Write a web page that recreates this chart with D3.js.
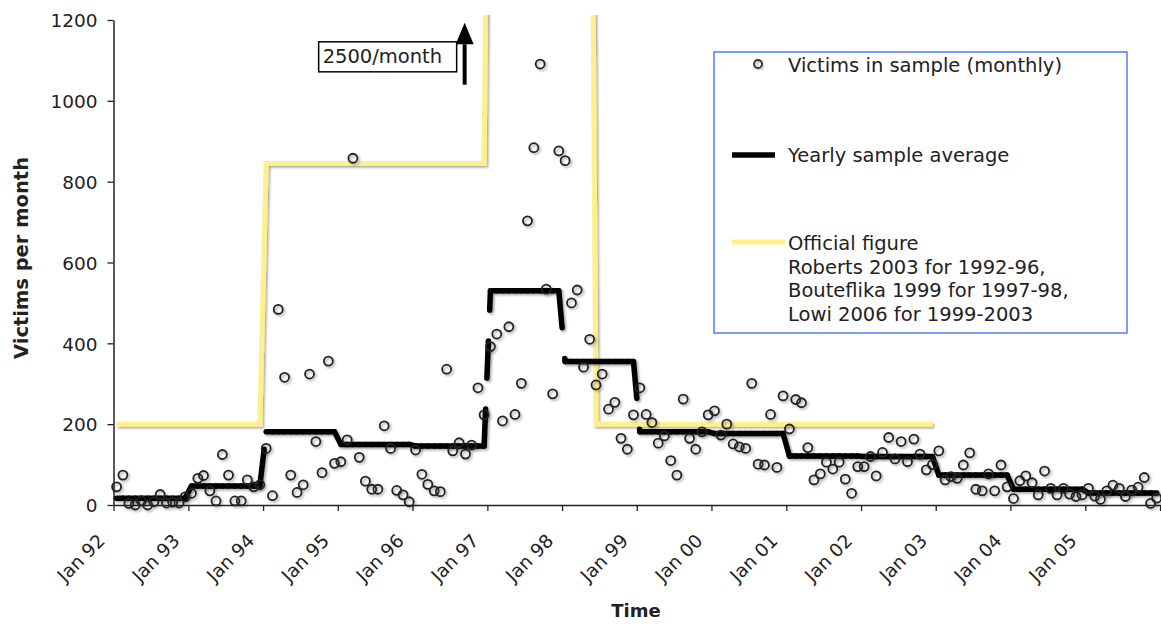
<!DOCTYPE html>
<html>
<head>
<meta charset="utf-8">
<script src="https://cdn.jsdelivr.net/npm/d3@7"></script>
<style>
body { margin: 0; background: #fff; }
svg text { font-family: "DejaVu Sans", Verdana, sans-serif; fill: #222; }
</style>
</head>
<body>
<div id="chart"></div>
<script>
// years on the axis, Jan 92 .. Jan 05
var years = [1992, 1993, 1994, 1995, 1996, 1997, 1998, 1999, 2000, 2001, 2002, 2003, 2004, 2005];

// victims in sample, one row per year, Jan..Dec
var victims = [
  45, 74, 4, 0, 10, 0, 8, 26, 5, 7, 5, 20,            // 1992
  29, 66, 73, 35, 10, 125, 74, 10, 10, 62, 45, 50,    // 1993
  140, 23, 484, 316, 74, 31, 50, 324, 157, 80, 356, 103,  // 1994
  107, 161, 858, 118, 59, 39, 39, 196, 140, 36, 25, 8,    // 1995
  136, 76, 51, 35, 33, 336, 134, 154, 126, 148, 290, 223, // 1996
  392, 423, 208, 441, 224, 301, 703, 884, 1091, 534, 275, 876, // 1997
  852, 500, 532, 341, 410, 297, 324, 237, 254, 165, 138, 223,  // 1998
  290, 224, 204, 153, 171, 110, 74, 262, 165, 138, 181, 223,   // 1999
  233, 173, 200, 151, 144, 140, 301, 101, 99, 224, 93, 270,    // 2000
  188, 261, 253, 142, 62, 77, 106, 89, 106, 64, 29, 95,        // 2001
  95, 120, 72, 130, 167, 114, 157, 107, 163, 126, 87, 100,     // 2002
  134, 62, 70, 66, 99, 129, 39, 35, 77, 35, 99, 45,            // 2003
  16, 60, 72, 55, 25, 84, 41, 25, 41, 27, 21, 25,              // 2004
  41, 22, 14, 35, 49, 41, 21, 37, 44, 68, 4, 17                // 2005
];

// yearly sample average
var yearlyAvg = [17, 47, 181, 150, 146, 530, 355, 181, 177, 121, 120, 74, 39, 30];

// official figure, step values from a start month (year, month index) to Dec 2002
var officialStart = [[1992, 0], [1994, 0], [1997, 0], [1998, 5]];
var officialValue = [200, 845, 2500, 200];
var officialEnd = [2002, 11];

var yTicks = [0, 200, 400, 600, 800, 1000, 1200];

var W = 1161, H = 624;
var plotL = 113.5, plotR = 1160, plotT = 20, plotB = 505;

var svg = d3.select("#chart").append("svg")
  .attr("width", W).attr("height", H);

var defs = svg.append("defs");
defs.append("filter").attr("id", "shadow")
  .attr("x", "-10%").attr("y", "-10%").attr("width", "130%").attr("height", "130%")
  .append("feDropShadow")
  .attr("dx", 1.6).attr("dy", 1.6).attr("stdDeviation", 0.9)
  .attr("flood-color", "#000").attr("flood-opacity", 0.35);
defs.append("clipPath").attr("id", "plotclip")
  .append("rect").attr("x", plotL).attr("y", 15).attr("width", plotR - plotL + 2).attr("height", plotB - 15);

var x = d3.scaleUtc()
  .domain([new Date(Date.UTC(1992, 0, 1)), new Date(Date.UTC(2006, 0, 1))])
  .range([plotL, plotR]);
var y = d3.scaleLinear().domain([0, 1200]).range([plotB, plotT]);

function mid(yr, m) { return new Date(Date.UTC(yr, m, 16)); }

var monthly = victims.map(function (v, i) {
  return { date: mid(years[0] + Math.floor(i / 12), i % 12), value: v };
});
var avgPts = victims.map(function (v, i) {
  return { date: mid(years[0] + Math.floor(i / 12), i % 12), value: yearlyAvg[Math.floor(i / 12)] };
});

var official = [];
officialStart.forEach(function (s, k) {
  var e = k + 1 < officialStart.length ? officialStart[k + 1] : [officialEnd[0], officialEnd[1] + 1];
  var yr = s[0], m = s[1];
  while (yr * 12 + m < e[0] * 12 + e[1]) {
    official.push({ date: mid(yr, m), value: officialValue[k] });
    m++; if (m > 11) { m = 0; yr++; }
  }
});

var line = d3.line().x(function (d) { return x(d.date); }).y(function (d) { return y(d.value); });

// axes
var xAxis = svg.append("g")
  .attr("transform", "translate(0," + plotB + ")")
  .call(d3.axisBottom(x)
    .ticks(d3.utcYear.every(1))
    .tickSize(6).tickSizeOuter(0)
    .tickFormat(function (d) { return d.getUTCFullYear() > 2005 ? "" : "Jan " + d3.utcFormat("%y")(d); }));
xAxis.select(".domain").attr("stroke", "#222").attr("stroke-width", 1.5);
xAxis.selectAll(".tick line").attr("stroke", "#222").attr("stroke-width", 1.3);
xAxis.selectAll(".tick text")
  .attr("y", 0).attr("dy", 0)
  .attr("text-anchor", "end")
  .attr("transform", "translate(-8,37) rotate(-45)")
  .style("font-size", "18.5px")
  .style("font-family", "DejaVu Sans, Verdana, sans-serif");

var yAxis = svg.append("g")
  .attr("transform", "translate(" + plotL + ",0)")
  .call(d3.axisLeft(y).tickValues(yTicks).tickSize(6).tickSizeOuter(0).tickFormat(d3.format("d")));
yAxis.select(".domain").attr("stroke", "#222").attr("stroke-width", 1.5);
yAxis.selectAll(".tick line").attr("stroke", "#222").attr("stroke-width", 1.3);
yAxis.selectAll(".tick text")
  .attr("x", -16).attr("dy", "0.36em")
  .style("font-size", "18.5px")
  .style("font-family", "DejaVu Sans, Verdana, sans-serif");

svg.append("text")
  .attr("transform", "translate(28,258) rotate(-90)")
  .attr("text-anchor", "middle")
  .style("font-size", "19.5px").style("font-weight", "bold")
  .text("Victims per month");
svg.append("text")
  .attr("x", 636).attr("y", 617)
  .attr("text-anchor", "middle")
  .style("font-size", "18px").style("font-weight", "bold")
  .text("Time");

// official figure
var plot = svg.append("g").attr("clip-path", "url(#plotclip)");
plot.append("g").attr("filter", "url(#shadow)")
  .append("path")
  .datum(official)
  .attr("d", line)
  .attr("fill", "none")
  .attr("stroke", "#fff08a")
  .attr("stroke-width", 5);

// yearly average, dash pattern restarts on every segment
var avgG = svg.append("g").attr("filter", "url(#shadow)");
avgG.selectAll("path")
  .data(d3.pairs(avgPts))
  .enter()
  .append("path")
  .attr("d", function (d) { return line(d); })
  .attr("fill", "none")
  .attr("stroke", "#000")
  .attr("stroke-width", 5.5)
  .attr("stroke-linecap", "round")
  .attr("stroke-dasharray", "37 31");

// monthly victims
svg.append("g").attr("filter", "url(#shadow)")
  .selectAll("circle")
  .data(monthly)
  .enter()
  .append("circle")
  .attr("cx", function (d) { return x(d.date); })
  .attr("cy", function (d) { return y(d.value); })
  .attr("r", 4.5)
  .attr("fill", "none")
  .attr("stroke", "#222")
  .attr("stroke-width", 1.8);

// 2500/month note with arrow
var ax = x(new Date(Date.UTC(1996, 8, 12)));
svg.append("line")
  .attr("x1", ax).attr("x2", ax)
  .attr("y1", y(1040)).attr("y2", y(1140))
  .attr("stroke", "#000").attr("stroke-width", 4);
svg.append("path")
  .attr("d", "M" + (ax - 9) + "," + y(1140) + "L" + ax + "," + y(1193) + "L" + (ax + 9) + "," + y(1140) + "Z")
  .attr("fill", "#000");
svg.append("rect")
  .attr("x", ax - 146).attr("y", y(1146)).attr("width", 138).attr("height", 30)
  .attr("fill", "#fff").attr("stroke", "#000").attr("stroke-width", 1.5);
svg.append("text")
  .attr("x", ax - 142).attr("y", y(1146) + 21.5)
  .style("font-size", "19.5px")
  .text("2500/month");

// legend
var lg = svg.append("g");
lg.append("rect")
  .attr("x", 714).attr("y", 52).attr("width", 413).attr("height", 281)
  .attr("fill", "#fff").attr("stroke", "#4f7cff").attr("stroke-width", 1.5);
lg.append("circle")
  .attr("cx", 758).attr("cy", 64).attr("r", 4)
  .attr("fill", "none").attr("stroke", "#333").attr("stroke-width", 1.8)
  .attr("filter", "url(#shadow)");
lg.append("line")
  .attr("x1", 732).attr("x2", 775).attr("y1", 155).attr("y2", 155)
  .attr("stroke", "#000").attr("stroke-width", 5.5);
lg.append("line")
  .attr("x1", 732).attr("x2", 785).attr("y1", 242).attr("y2", 242)
  .attr("stroke", "#fff08a").attr("stroke-width", 5);
var legendText = [
  ["Victims in sample (monthly)", 72],
  ["Yearly sample average", 162],
  ["Official figure", 250],
  ["Roberts 2003 for 1992-96,", 273.5],
  ["Bouteflika 1999 for 1997-98,", 297],
  ["Lowi 2006 for 1999-2003", 320.5]
];
lg.selectAll("text.lg")
  .data(legendText)
  .enter()
  .append("text")
  .attr("class", "lg")
  .attr("x", 788)
  .attr("y", function (d) { return d[1]; })
  .style("font-size", "19.5px")
  .text(function (d) { return d[0]; });
</script>
</body>
</html>
